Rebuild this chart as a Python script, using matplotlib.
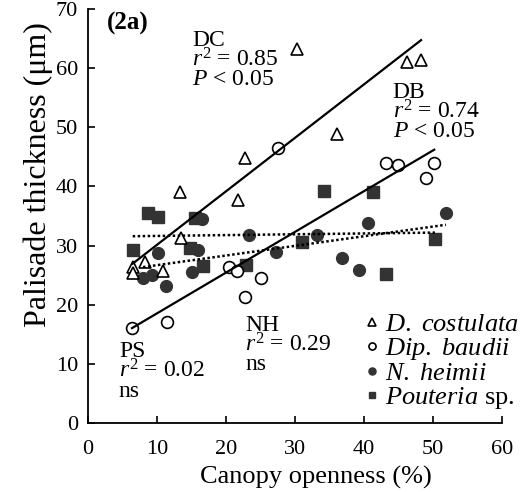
import numpy as np
import matplotlib
matplotlib.use("Agg")
import matplotlib.pyplot as plt

plt.rcParams['font.family'] = ['Liberation Serif', 'DejaVu Serif']
plt.rcParams['mathtext.fontset'] = 'custom'
plt.rcParams['mathtext.rm'] = 'Liberation Serif'
plt.rcParams['mathtext.it'] = 'Liberation Serif:italic'
plt.rcParams['mathtext.bf'] = 'Liberation Serif:bold'

# Canopy openness (%) / palisade thickness (um)
dc_x = [6.5, 6.5, 8.3, 10.9, 13.5, 13.3, 21.7, 22.8, 30.3, 36.1, 46.2, 48.3]
dc_y = [26.4, 25.3, 27.2, 25.7, 31.3, 39.0, 37.7, 44.8, 63.3, 48.8, 61.0, 61.3]

db_x = [6.4, 11.5, 20.4, 21.6, 25.1, 22.8, 27.6, 43.2, 45.0, 50.2, 49.0]
db_y = [16.0, 17.1, 26.4, 25.7, 24.5, 21.3, 46.5, 43.9, 43.6, 43.9, 41.4]

nh_x = [8.0, 9.3, 10.1, 11.4, 15.1, 16.5, 15.9, 23.3, 27.2, 33.2, 40.6, 36.8, 39.3, 51.9]
nh_y = [24.5, 25.0, 28.7, 23.1, 25.5, 34.5, 29.2, 31.8, 28.9, 31.8, 33.8, 27.9, 25.8, 35.5]

ps_x = [6.5, 8.7, 10.1, 15.5, 14.8, 16.7, 22.9, 31.0, 34.2, 41.3, 43.2, 50.3]
ps_y = [29.2, 35.5, 34.8, 34.6, 29.6, 26.5, 26.7, 30.6, 39.2, 39.0, 25.2, 31.1]

labels = [r"$\mathit{D.\ costulata}$", r"$\mathit{Dip.\ baudii}$",
          r"$\mathit{N.\ heimii}$", r"$\mathit{Pouteria}$ sp."]

fig = plt.figure(figsize=(5.26, 4.92), dpi=100)
ax = fig.add_axes([0.167, 0.140, 0.787, 0.842])

dark = '#333333'
ax.plot(ps_x, ps_y, 's', ms=8, mfc=dark, mec=dark, label=labels[3], zorder=3)
ax.plot(nh_x, nh_y, 'o', ms=8.5, mfc=dark, mec=dark, label=labels[2], zorder=3)
ax.plot(db_x, db_y, 'o', ms=8.5, mfc='white', mec='black', mew=1.2, label=labels[1], zorder=4)
ax.plot(dc_x, dc_y, '^', ms=8.5, mfc='white', mec='black', mew=1.2, label=labels[0], zorder=4)

# regression lines, drawn over each species' x range
def fit_line(x, y, **kw):
    x = np.asarray(x); y = np.asarray(y)
    b, a = np.polyfit(x, y, 1)
    xs = np.array([x.min(), x.max()])
    ax.plot(xs, a + b * xs, color='black', zorder=5, **kw)

fit_line(dc_x, dc_y, lw=1.6)
fit_line(db_x, db_y, lw=1.6)
fit_line(nh_x, nh_y, lw=1.8, ls=(0, (1, 1)))
fit_line(ps_x, ps_y, lw=1.8, ls=(0, (1, 1)))

ax.set_xlim(0, 60)
ax.set_ylim(0, 70)
ax.set_xticks(range(0, 61, 10))
ax.set_yticks(range(0, 71, 10))
ax.spines['top'].set_visible(False)
ax.spines['right'].set_visible(False)
for s in ['left', 'bottom']:
    ax.spines[s].set_linewidth(1.3)
ax.tick_params(direction='in', length=5, width=1.2, labelsize=16)
ax.tick_params(axis='x', pad=12)
ax.tick_params(axis='y', pad=7)

ax.set_xlabel("Canopy openness (%)", fontsize=19, va='center')
ax.xaxis.set_label_coords(0.55, -0.13)
ax.set_ylabel("Palisade thickness (μm)", fontsize=23, va='center')
ax.yaxis.set_label_coords(-0.121, 0.60)

ax.text(2.8, 69.5, "(2a)", fontsize=18, fontweight='bold', va='top')
ax.text(15.1, 66.5, "DC\n$r^2$ = 0.85\n$P$ < 0.05", fontsize=17, va='top', linespacing=0.85)
ax.text(44.2, 57.7, "DB\n$r^2$ = 0.74\n$P$ < 0.05", fontsize=17, va='top', linespacing=0.85)
ax.text(22.8, 18.3, "NH\n$r^2$ = 0.29\nns", fontsize=17, va='top', linespacing=0.85)
ax.text(4.5, 13.8, "PS\n$r^2$ = 0.02\nns", fontsize=17, va='top', linespacing=0.85)

h, l = ax.get_legend_handles_labels()
ax.legend(h[::-1], l[::-1], loc='lower left', bbox_to_anchor=(0.635, -0.01),
          frameon=False, fontsize=19, markerscale=0.6, handlelength=0.4,
          handletextpad=0.3, labelspacing=0.0, borderaxespad=0.2)

fig.savefig("out.png", dpi=100)
